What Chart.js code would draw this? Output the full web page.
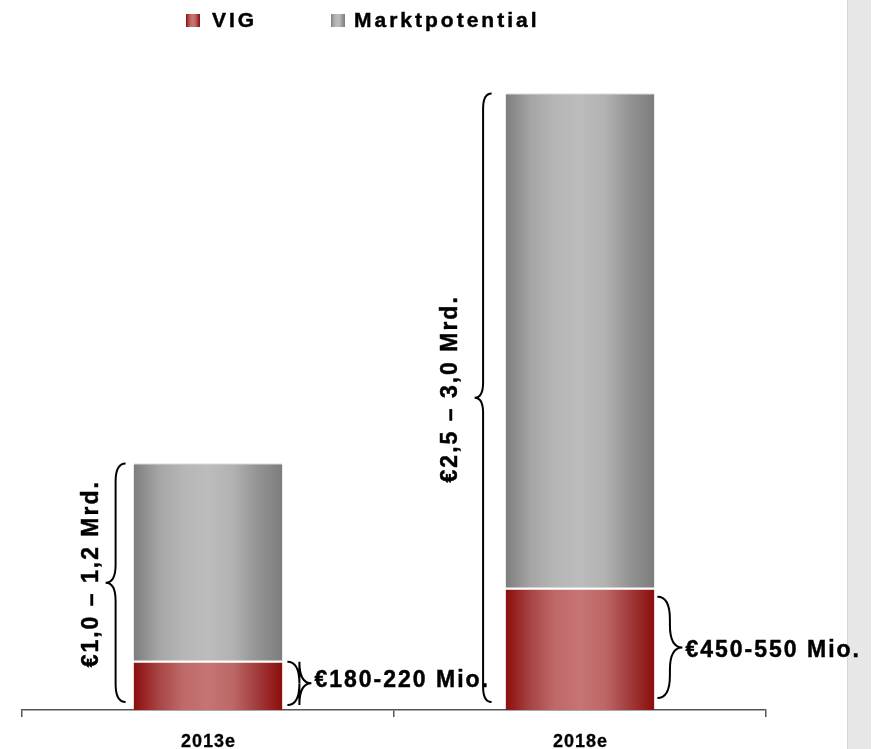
<!DOCTYPE html>
<html>
<head>
<meta charset="utf-8">
<script src="https://cdn.jsdelivr.net/npm/chart.js@4/dist/chart.umd.min.js"></script>
<style>
  html, body { margin: 0; padding: 0; background: #fff; }
  #wrap { position: relative; width: 875px; height: 749px; }
  #panel { position: absolute; left: 847px; top: 0; width: 23px; height: 749px; background: #e7e7e7; border-left: 1px solid #d6d6d6; }
  #chart { position: absolute; left: 0; top: 0; }
</style>
</head>
<body>
<div id="wrap">
  <div id="panel"></div>
  <canvas id="chart" width="875" height="749"></canvas>
</div>
<script>
const categories = ["2013e", "2018e"];
const vigValues = [220, 545];
const marktValues = [880, 2205];
const totalLabels = ["€1,0 – 1,2 Mrd.", "€2,5 – 3,0 Mrd."];
const vigLabels = ["€180-220 Mio.", "€450-550 Mio."];

const FONT = "'Liberation Sans', Arial, sans-serif";
const redStops = ["#8c0d0d", "#a84444", "#bf6969", "#c77474", "#bd6767", "#a23b3b", "#8c0d0d"];
const grayStops = ["#7d7d7d", "#a5a5a5", "#b6b6b6", "#bcbcbc", "#b2b2b2", "#939393", "#7d7d7d"];

function barGradient(stops) {
  return (ctx) => {
    const chart = ctx.chart;
    const xs = chart.scales.x;
    if (ctx.type !== "data" || !xs || !chart.chartArea) return stops[3];
    const cx = xs.getPixelForValue(ctx.dataIndex);
    const w = xs.width / categories.length * 0.4;
    const g = chart.ctx.createLinearGradient(cx - w / 2, 0, cx + w / 2, 0);
    stops.forEach((c, i) => g.addColorStop(i / (stops.length - 1), c));
    return g;
  };
}

// Text mit Sperrung, Zeichen für Zeichen (etwas fetter durch Kontur)
function spaced(ctx, text, x, y, sp, align, heavy) {
  const chars = Array.from(text);
  const widths = chars.map(ch => ctx.measureText(ch).width);
  const total = widths.reduce((a, b) => a + b, 0) + sp * (chars.length - 1);
  let cx = align === "center" ? x - total / 2 : x;
  ctx.textAlign = "left";
  ctx.lineWidth = heavy;
  ctx.strokeStyle = ctx.fillStyle;
  ctx.lineJoin = "miter";
  chars.forEach((ch, i) => {
    ctx.fillText(ch, cx, y);
    if (heavy) ctx.strokeText(ch, cx, y);
    cx += widths[i] + sp;
  });
}

// geschweifte Klammer, Spitze zeigt nach links oder rechts
function brace(ctx, xEnd, xTip, yTop, yBot, yTip) {
  const xMid = (xEnd + xTip) / 2;
  const r = Math.abs(xTip - xEnd) * 0.9;
  ctx.beginPath();
  ctx.moveTo(xEnd, yTop);
  ctx.quadraticCurveTo(xMid, yTop, xMid, yTop + r);
  ctx.lineTo(xMid, yTip - r);
  ctx.quadraticCurveTo(xMid, yTip, xTip, yTip);
  ctx.quadraticCurveTo(xMid, yTip, xMid, yTip + r);
  ctx.lineTo(xMid, yBot - r);
  ctx.quadraticCurveTo(xMid, yBot, xEnd, yBot);
  ctx.stroke();
}

// Klammern + Beschriftung
const bracePlugin = {
  id: "braces",
  afterDatasetsDraw(chart) {
    const ctx = chart.ctx;
    const vig = chart.getDatasetMeta(0).data;
    const mk = chart.getDatasetMeta(1).data;
    const totalStyle = [{ gap: 8, w: 20, dx: 15, dy: -8 }, { gap: 14, w: 17, dx: 25, dy: -8 }];
    const vigStyle = [{ gap: 5, w: 24, top: 1, bot: 5, dy: -3 }, { gap: 3, w: 25, top: 9, bot: 12, dy: 3 }];
    ctx.save();
    ctx.fillStyle = "#000";
    ctx.font = "bold 23px " + FONT;
    ctx.textBaseline = "middle";
    categories.forEach((c, i) => {
      const red = vig[i], gray = mk[i];
      const left = red.x - red.width / 2;
      const right = red.x + red.width / 2;
      const base = red.base;

      // gesamt
      const t = totalStyle[i];
      const yTop = gray.y, yBot = base - 8;
      const yMid = (yTop + yBot) / 2;
      ctx.strokeStyle = "#000";
      ctx.lineWidth = 2;
      brace(ctx, left - t.gap, left - t.gap - t.w, yTop, yBot, yMid);
      ctx.save();
      ctx.translate(left - t.gap - t.w - t.dx, yMid + t.dy);
      ctx.rotate(-Math.PI / 2);
      spaced(ctx, totalLabels[i], 0, 1, 2, "center", 0.45);
      ctx.restore();

      // VIG
      const v = vigStyle[i];
      const vTop = red.y + v.top, vBot = base - v.bot;
      const vMid = (vTop + vBot) / 2;
      ctx.strokeStyle = "#000";
      ctx.lineWidth = 2;
      brace(ctx, right + v.gap, right + v.gap + v.w, vTop, vBot, vMid);
      spaced(ctx, vigLabels[i], right + v.gap + v.w + 3, vMid + v.dy, 2, "left", 0.45);
    });
    ctx.restore();
  }
};

// Legende oben
const legendPlugin = {
  id: "topLegend",
  afterDraw(chart) {
    const ctx = chart.ctx;
    const items = [{ x: 186, tx: 212, stops: redStops }, { x: 331, tx: 354, stops: grayStops }];
    ctx.save();
    ctx.font = "bold 21px " + FONT;
    ctx.textBaseline = "alphabetic";
    chart.data.datasets.forEach((ds, i) => {
      const it = items[i];
      const g = ctx.createLinearGradient(it.x, 0, it.x + 14, 0);
      it.stops.forEach((c, k) => g.addColorStop(k / (it.stops.length - 1), c));
      ctx.fillStyle = g;
      ctx.fillRect(it.x, 14, 14, 13);
      ctx.fillStyle = "#000";
      spaced(ctx, ds.label, it.tx, 27, 3, "left", 0.45);
    });
    ctx.restore();
  }
};

// Kategorien unten (gesperrt)
const tickPlugin = {
  id: "xLabels",
  afterDraw(chart) {
    const ctx = chart.ctx;
    const xs = chart.scales.x;
    ctx.save();
    ctx.font = "bold 18px " + FONT;
    ctx.fillStyle = "#000";
    ctx.textBaseline = "alphabetic";
    categories.forEach((c, i) => {
      spaced(ctx, c, xs.getPixelForValue(i), 747, 1, "center", 0.3);
    });
    ctx.restore();
  }
};

new Chart(document.getElementById("chart"), {
  type: "bar",
  data: {
    labels: categories,
    datasets: [
      {
        label: "VIG",
        data: vigValues,
        backgroundColor: barGradient(redStops),
        borderColor: "rgba(255,255,255,0.95)",
        borderWidth: { top: 2, left: 0, right: 0, bottom: 0 },
        borderSkipped: false
      },
      {
        label: "Marktpotential",
        data: marktValues,
        backgroundColor: barGradient(grayStops),
        borderColor: "#b4b4b4",
        borderWidth: { top: 1, left: 0, right: 0, bottom: 0 },
        borderSkipped: false
      }
    ]
  },
  options: {
    responsive: false,
    animation: false,
    devicePixelRatio: 1,
    layout: { padding: { left: 22, right: 109, top: 60, bottom: 0 } },
    datasets: { bar: { barPercentage: 0.4, categoryPercentage: 1 } },
    plugins: { legend: { display: false }, tooltip: { enabled: false } },
    scales: {
      x: {
        stacked: true,
        afterFit(scale) { scale.height = 39; },
        border: { display: true, color: "#555", width: 1.5 },
        grid: { offset: true, drawOnChartArea: false, drawTicks: true, tickLength: 7, color: "#555", lineWidth: 1.5 },
        ticks: { display: false }
      },
      y: {
        stacked: true,
        display: false,
        min: 0,
        max: 2900
      }
    }
  },
  plugins: [bracePlugin, legendPlugin, tickPlugin]
});
</script>
</body>
</html>
